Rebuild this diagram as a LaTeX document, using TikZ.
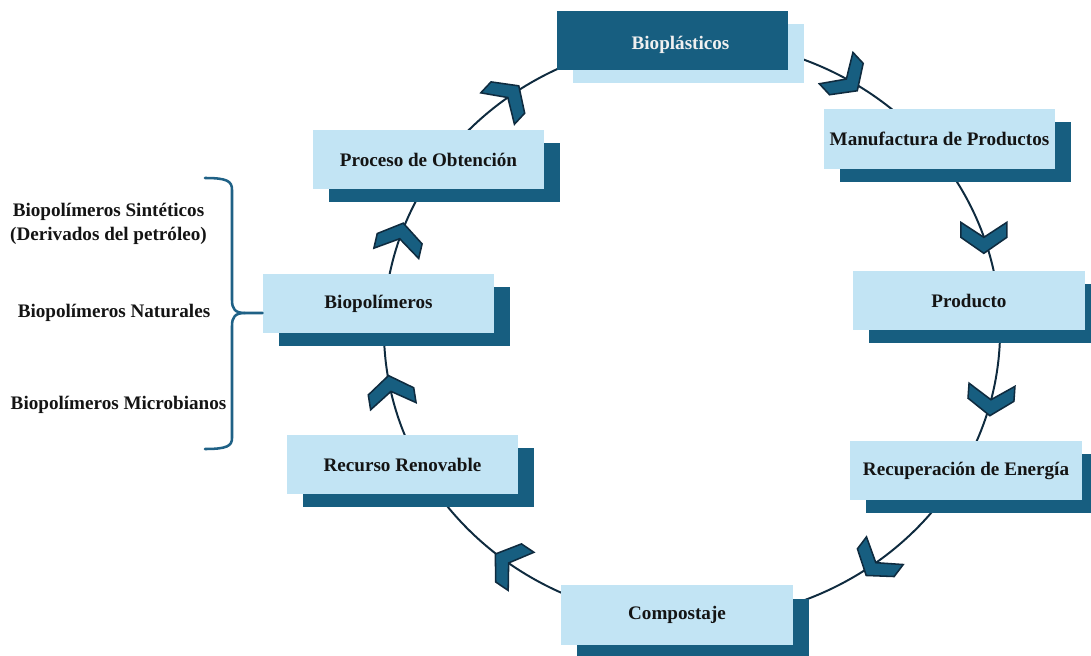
\documentclass[tikz,border=0pt]{standalone}
\usepackage{fontspec}
\setmainfont{Liberation Serif}
\usetikzlibrary{shadows,backgrounds}
\definecolor{dkblue}{HTML}{175E80}
\definecolor{ltblue}{HTML}{C2E4F4}
\definecolor{navy}{HTML}{0F2B3F}
\definecolor{bracecol}{HTML}{1F6186}
\tikzset{
  boxbase/.style={minimum width=5.775cm, minimum height=1.475cm, inner sep=0pt,
    font=\fontsize{13.6}{16}\selectfont\bfseries},
  boxlt/.style={boxbase, fill=ltblue, text=black!92,
    copy shadow={shadow xshift=0.4cm, shadow yshift=-0.325cm, fill=dkblue, draw=none, opacity=1}},
  boxdk/.style={boxbase, fill=dkblue, text=white!94!black,
    copy shadow={shadow xshift=0.4cm, shadow yshift=-0.325cm, fill=ltblue, draw=none, opacity=1}},
  sidetext/.style={font=\fontsize{13.6}{17}\selectfont\bfseries, align=center, text=black!92},
  ring/.style={draw=navy, line width=1.4pt},
  chev/.pic={\draw[fill=dkblue, draw=navy, line width=1.1pt, line join=miter]
     (16,0) -- (0,23) -- (-15,23) -- (0,0) -- (-15,-23) -- (0,-23) -- cycle;},
}
\begin{document}
\begin{tikzpicture}[x=0.025cm, y=-0.025cm]
\path[use as bounding box, clip] (0,0) rectangle (1091,656);

% boxes
\node[boxdk] (biopl) at (672.5,40.5) {\hspace{0.4cm}\raisebox{-0.1cm}[\height][\depth]{Biopl\'asticos}};
\node[boxlt] (manuf) at (939.5,139) {Manufactura de Productos};
\node[boxlt] (prod) at (969,300.5) {Producto};
\node[boxlt] (recup) at (966,470.5) {Recuperaci\'on de Energ\'ia};
\node[boxlt] (comp) at (677,615) {Compostaje};
\node[boxlt] (recur) at (402.5,464.5) {Recurso Renovable};
\node[boxlt] (biopol) at (378.5,303.5) {Biopol\'imeros};
\node[boxlt] (proc) at (428.5,159.5) {Proceso de Obtenci\'on};

% cycle ring behind boxes
\begin{pgfonlayer}{background}
\draw[ring] (692,330) ellipse [x radius=7.7cm, y radius=7.25cm];
\end{pgfonlayer}

% chevrons along the cycle
\foreach \px/\py/\a in {509/99/47, 847/78/-47, 988/236/-90, 992/400/-94,
                        880/568/-127, 507/565/146, 388/392/99, 407/241/77} {
  \pgfmathsetmacro\tpar{atan2((330-\py)/290,(\px-692)/308)}
  \pic[rotate=\a] at ({692+308*cos(\tpar)},{330-290*sin(\tpar)}) {chev};
}

% side texts
\node[sidetext] (sint) at (108.5,224) {Biopol\'imeros Sint\'eticos\\(Derivados del petr\'oleo)};
\node[sidetext] (nat) at (114,313) {Biopol\'imeros Naturales};
\node[sidetext] (micro) at (118.5,405) {Biopol\'imeros Microbianos};

% brace
\coordinate (tip) at (biopol.west |- 0,313);
\draw[bracecol, line width=1.8pt, line cap=round]
  (205,178) .. controls (227,178) and (232,181) .. (232,190) -- (232,300)
  .. controls (232,309) and (235,313) .. (245,313) -- (tip);
\draw[bracecol, line width=1.8pt, line cap=round]
  (245,313) .. controls (235,313) and (232,317) .. (232,326) -- (232,438)
  .. controls (232,446) and (227,449) .. (205,449);
\end{tikzpicture}
\end{document}
